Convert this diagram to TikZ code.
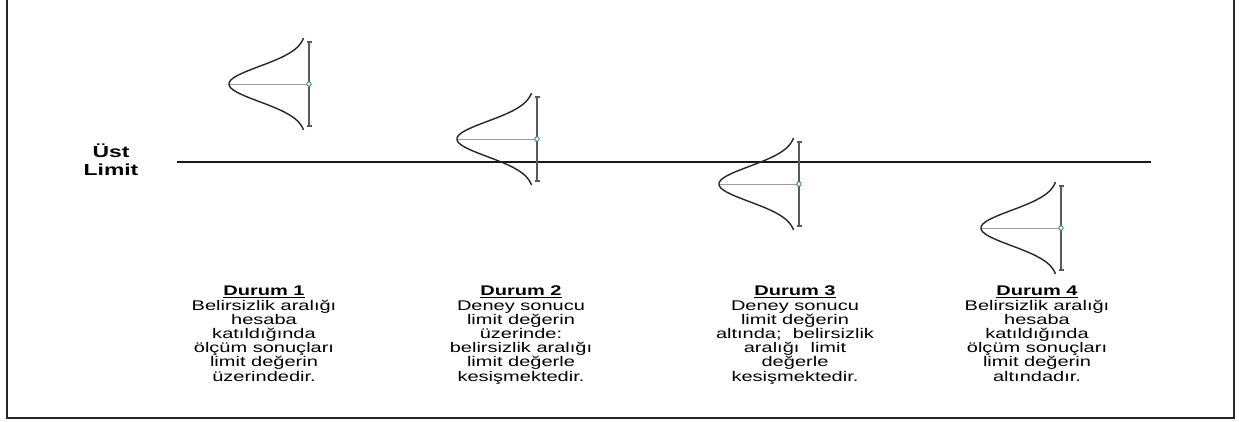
\documentclass[tikz,border=0pt]{standalone}
\usepackage{fontspec}
\setmainfont{Liberation Sans}
\begin{document}
\begin{tikzpicture}[x=1pt,y=-1pt,
  curve/.style={draw=black!85,line width=1.4pt},
  bar/.style={draw=black!65,line width=1.3pt},
  mid/.style={draw=black!40,line width=0.9pt},
  dot/.style={circle,draw=teal!70!gray,fill=cyan!10,line width=0.8pt,minimum size=4.5pt,inner sep=0pt},
  caption/.style={font=\fontsize{14}{14.2}\selectfont,align=center,anchor=north,inner sep=0pt,xscale=1.43},
  limitlbl/.style={font=\bfseries\fontsize{16}{18}\selectfont,align=center,inner sep=0pt,xscale=1.43}
]
\useasboundingbox (0,0) rectangle (1239,422);
% frame
\draw[black!85,line width=2pt] (6.5,-3) -- (6.5,418) -- (1234,418) -- (1234,-3);
% upper limit line
\coordinate (L0) at (177,162);
\coordinate (L1) at (1151,162);
\draw[black!90,line width=2pt] (L0) -- (L1);
\node[limitlbl] (lbl) at (111,160) {Üst\\Limit};
% bell curves
\foreach \bx/\cy/\n in {309/84/a,537/139/b,799/184/c,1061/228/d}{
  \coordinate (top\n) at (\bx,\cy-42);
  \coordinate (bot\n) at (\bx,\cy+42);
  \coordinate (tip\n) at (\bx-80,\cy);
  \draw[bar] (top\n) -- (bot\n);
  \draw[bar] ([xshift=-2.5pt]top\n) -- ([xshift=2.5pt]top\n);
  \draw[bar] ([xshift=-2.5pt]bot\n) -- ([xshift=2.5pt]bot\n);
  \draw[mid] (tip\n) -- (\bx,\cy);
  \draw[curve] plot[domain=-46:46,samples=90,smooth] ({\bx-3-77*exp(-(\x)^2/620)},{\cy+\x});
  \node[dot] (c\n) at (\bx,\cy) {};
}
% captions
\node[caption] (d1) at (264,286) {\textbf{\underline{Durum 1}}\\Belirsizlik aralığı\\hesaba\\katıldığında\\ölçüm sonuçları\\limit değerin\\üzerindedir.};
\node[caption] (d2) at (521,286) {\textbf{\underline{Durum 2}}\\Deney sonucu\\limit değerin\\üzerinde:\\belirsizlik aralığı\\limit değerle\\kesişmektedir.};
\node[caption] (d3) at (795,286) {\textbf{\underline{Durum 3}}\\Deney sonucu\\limit değerin\\altında;\ \ belirsizlik\\aralığı\ \ limit\\değerle\\kesişmektedir.};
\node[caption] (d4) at (1037,286) {\textbf{\underline{Durum 4}}\\Belirsizlik aralığı\\hesaba\\katıldığında\\ölçüm sonuçları\\limit değerin\\altındadır.};
\end{tikzpicture}
\end{document}
